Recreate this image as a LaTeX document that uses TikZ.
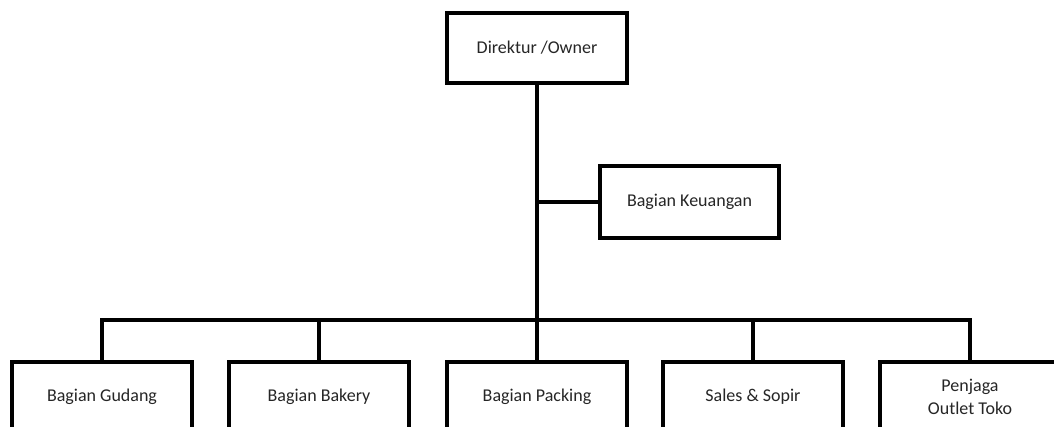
\documentclass[tikz,border=0pt]{standalone}
\usepackage{fontspec}
\setmainfont{Carlito}
\definecolor{txt}{HTML}{262626}
\begin{document}
\begin{tikzpicture}[x=1pt,y=-1pt,
  box/.style={draw=black, line width=3.8pt, fill=white, minimum width=180pt, minimum height=70pt, inner sep=0pt, align=center, text=txt, font=\fontsize{18}{23}\selectfont},
  conn/.style={draw=black, line width=3.8pt}]
\clip (0,0) rectangle (1054,427);
\fill[white] (0,0) rectangle (1054,427);
\node[box] (top) at (537,48) {Direktur /Owner};
\node[box, minimum width=179pt, minimum height=72pt] (keu) at (689.5,202) {Bagian Keuangan};
\node[box] (b1) at (102,397) {Bagian Gudang};
\node[box] (b2) at (319,397) {Bagian Bakery};
\node[box] (b3) at (537,397) {Bagian Packing};
\node[box] (b4) at (753,397) {Sales \& Sopir};
\node[box] (b5) at (970,397) {Penjaga\\Outlet Toko};
\coordinate (bus) at (537,320);
\draw[conn] (top) -- (b3);
\draw[conn] (keu.west) -- (keu.west -| top.south);
\draw[conn] (b1.north) |- (bus) -| (b5.north);
\draw[conn] (b2.north) -- (b2.north |- bus);
\draw[conn] (b4.north) -- (b4.north |- bus);
\end{tikzpicture}
\end{document}
